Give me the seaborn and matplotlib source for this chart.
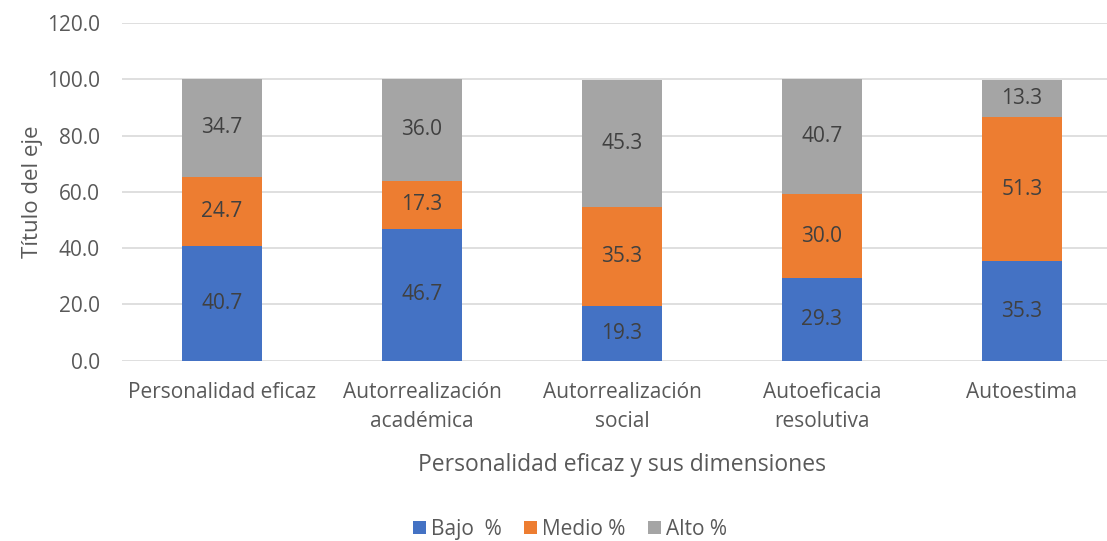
import pandas as pd
import seaborn as sns
import matplotlib.pyplot as plt
from matplotlib.patches import Patch

# Datos
categorias = ['Personalidad eficaz', 'Autorrealización\nacadémica', 'Autorrealización\nsocial',
              'Autoeficacia\nresolutiva', 'Autoestima']
bajo = [40.7, 46.7, 19.3, 29.3, 35.3]
medio = [24.7, 17.3, 35.3, 30.0, 51.3]
alto = [34.7, 36.0, 45.3, 40.7, 13.3]
series = ['Bajo  %', 'Medio %', 'Alto %']
colores = ['#4472C4', '#ED7D31', '#A5A5A5']

df = pd.DataFrame({'cat': categorias, 'Bajo  %': bajo, 'Medio %': medio, 'Alto %': alto})

sns.set_style('white')
plt.rcParams['font.family'] = ['Open Sans', 'DejaVu Sans']

fig = plt.figure(figsize=(11.07, 5.41), dpi=100)
ax = fig.add_axes([0.1102, 0.3333, 0.8898, 0.6242])

base = [0.0] * len(categorias)
for s, c in zip(series, colores):
    sns.barplot(data=df, x='cat', y=s, bottom=base, color=c, width=0.4,
                ax=ax, zorder=3, saturation=1, linewidth=0)
    for i, v in enumerate(df[s]):
        ax.text(i, base[i] + v / 2, f'{v:.1f}', ha='center', va='center',
                fontsize=15, color='#404040', zorder=4)
    base = [b + v for b, v in zip(base, df[s])]

ax.set_ylim(0, 120)
ax.set_xlim(-0.5, 4.425)
ax.set_yticks(range(0, 121, 20))
ax.set_yticklabels([f'{t:.1f}' for t in range(0, 121, 20)])
ax.yaxis.grid(True, color='#D9D9D9', linewidth=1.2, zorder=0)
for sp in ax.spines.values():
    sp.set_visible(False)
ax.tick_params(axis='both', length=0, colors='#595959', labelsize=15)
ax.tick_params(axis='y', pad=16)
ax.tick_params(axis='x', pad=15)
for t in ax.get_xticklabels():
    t.set_linespacing(1.5)
ax.set_ylabel('Título del eje', fontsize=16, color='#595959', labelpad=3)
ax.set_xlabel('Personalidad eficaz y sus dimensiones', fontsize=16.5, color='#595959')
ax.xaxis.set_label_coords(0.5076, -0.272)

handles = [Patch(facecolor=c, edgecolor='none') for c in colores]
fig.legend(handles, series, loc='center', bbox_to_anchor=(0.515, 0.022), ncol=3, frameon=False,
           fontsize=15, labelcolor='#595959', handlelength=0.6, handleheight=0.6,
           handletextpad=0.25, columnspacing=1.1)

plt.savefig('out.png', dpi=100)
